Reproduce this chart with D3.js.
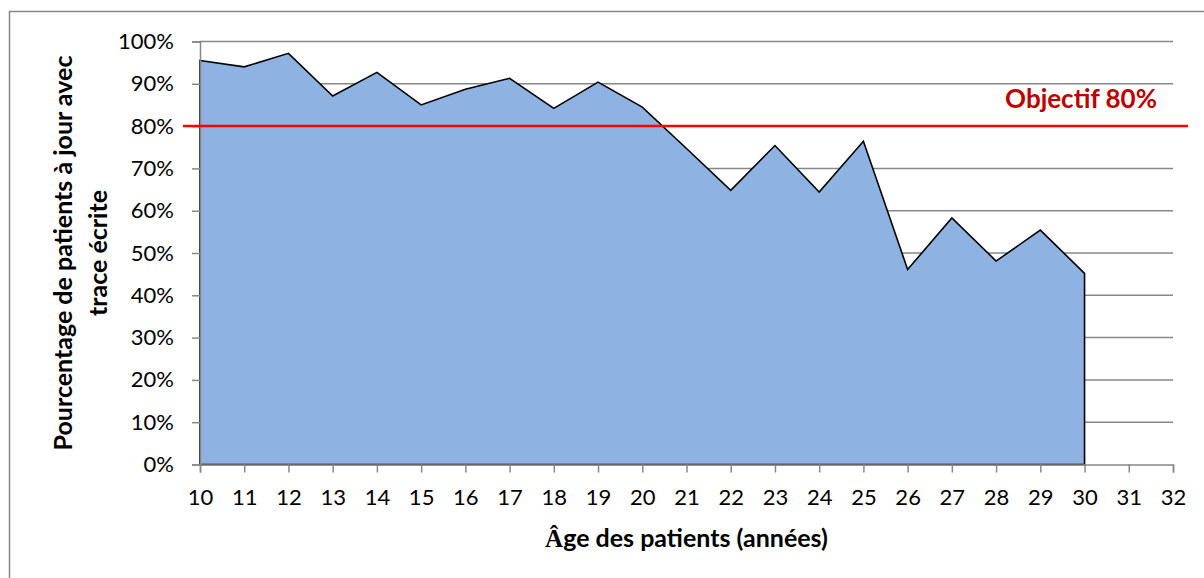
<html>
<head>
<meta charset="utf-8">
<script src="https://d3js.org/d3.v7.min.js"></script>
</head>
<style>
	body {
		margin: 0;
		background-color: white;
	}
	svg {
		display: block;
		font-family: Lato, "Open Sans", sans-serif;
	}
</style>
<body>
<script>
	var width = 1204;
	var height = 578;

	// data
	var ages = [10,11,12,13,14,15,16,17,18,19,20,21,22,23,24,25,26,27,28,29,30];
	var percents = [95.5,94.0,97.2,87.1,92.7,85.0,88.7,91.3,84.2,90.4,84.5,74.7,64.8,75.4,64.4,76.4,46.1,58.3,48.1,55.4,45.2];
	var ageTicks = [10,11,12,13,14,15,16,17,18,19,20,21,22,23,24,25,26,27,28,29,30,31,32];
	var pctTicks = [0,10,20,30,40,50,60,70,80,90,100];
	var objectif = 80;

	var plot = {left:200, right:1173, top:41.5, bottom:464.5};
	var gridColor = "#878787";

	var data = ages.map(function(a,i){ return {age:a, pct:percents[i]}; });

	var x = d3.scaleLinear().domain([10,32]).range([plot.left, plot.right]);
	var y = d3.scaleLinear().domain([0,100]).range([plot.bottom, plot.top]);

	var svg = d3.select("body")
				.append("svg")
				.attr("width", width)
				.attr("height", height);

	// outer frame (clipped on the right and bottom like the screenshot)
	svg.append("rect")
		.attr("x", 9.5)
		.attr("y", 11.5)
		.attr("width", 1400)
		.attr("height", 800)
		.attr("fill", "white")
		.attr("stroke", gridColor)
		.attr("stroke-width", 1.5);

	// horizontal grid
	svg.append("g")
		.selectAll("line")
		.data(pctTicks.slice(1))
		.enter()
		.append("line")
		.attr("x1", plot.left)
		.attr("x2", plot.right)
		.attr("y1", function(d){ return y(d); })
		.attr("y2", function(d){ return y(d); })
		.attr("stroke", gridColor)
		.attr("stroke-width", 1.5);

	// area
	var area = d3.area()
		.x(function(d){ return x(d.age); })
		.y0(y(0))
		.y1(function(d){ return y(d.pct); });

	svg.append("path")
		.datum(data)
		.attr("d", area)
		.attr("fill", "#8EB3E2")
		.attr("stroke", "black")
		.attr("stroke-width", 1.6)
		.attr("stroke-linejoin", "miter");

	// y axis
	var yAxis = d3.axisLeft(y)
		.tickValues(pctTicks)
		.tickSize(8)
		.tickPadding(18)
		.tickFormat(function(d){ return d + "%"; });

	var gy = svg.append("g")
		.attr("transform", "translate(" + plot.left + ",0)")
		.call(yAxis);

	// x axis
	var xAxis = d3.axisBottom(x)
		.tickValues(ageTicks)
		.tickSize(8)
		.tickPadding(17)
		.tickFormat(d3.format("d"));

	var gx = svg.append("g")
		.attr("transform", "translate(0," + plot.bottom + ")")
		.call(xAxis);

	[gx, gy].forEach(function(g){
		g.select(".domain").attr("stroke", gridColor).attr("stroke-width", 1.5);
		g.selectAll(".tick line").attr("stroke", gridColor).attr("stroke-width", 1.5);
		g.selectAll(".tick text")
			.attr("fill", "black")
			.style("font-family", "Lato, sans-serif")
			.style("font-size", "22px");
	});
	gx.selectAll(".tick text").attr("dy", "0.71em");

	// objective line
	svg.append("line")
		.attr("x1", 183)
		.attr("x2", 1188)
		.attr("y1", y(objectif))
		.attr("y2", y(objectif))
		.attr("stroke", "#FF0000")
		.attr("stroke-width", 2.5);

	svg.append("text")
		.attr("x", 1157)
		.attr("y", 108)
		.attr("text-anchor", "end")
		.attr("fill", "#C00000")
		.style("font-weight", "bold")
		.style("font-size", "26px")
		.text("Objectif " + objectif + "%");

	// axis titles
	var xt = svg.append("text")
		.attr("x", (plot.left + plot.right) / 2)
		.attr("y", 547)
		.attr("text-anchor", "middle")
		.style("font-weight", "bold")
		.style("font-size", "25px");
	xt.append("tspan").style("font-family", "'Liberation Serif', serif").text("Â");
	xt.append("tspan").text("ge des patients (années)");

	var yTitle = ["Pourcentage de patients à jour avec", "trace écrite"];
	svg.selectAll(".ytitle")
		.data(yTitle)
		.enter()
		.append("text")
		.attr("class", "ytitle")
		.attr("transform", function(d,i){
			return "translate(" + (72 + i*35) + "," + ((plot.top + plot.bottom) / 2) + ") rotate(-90)";
		})
		.attr("text-anchor", "middle")
		.style("font-weight", "bold")
		.style("font-size", "25px")
		.text(function(d){ return d; });
</script>
</body>
</html>
